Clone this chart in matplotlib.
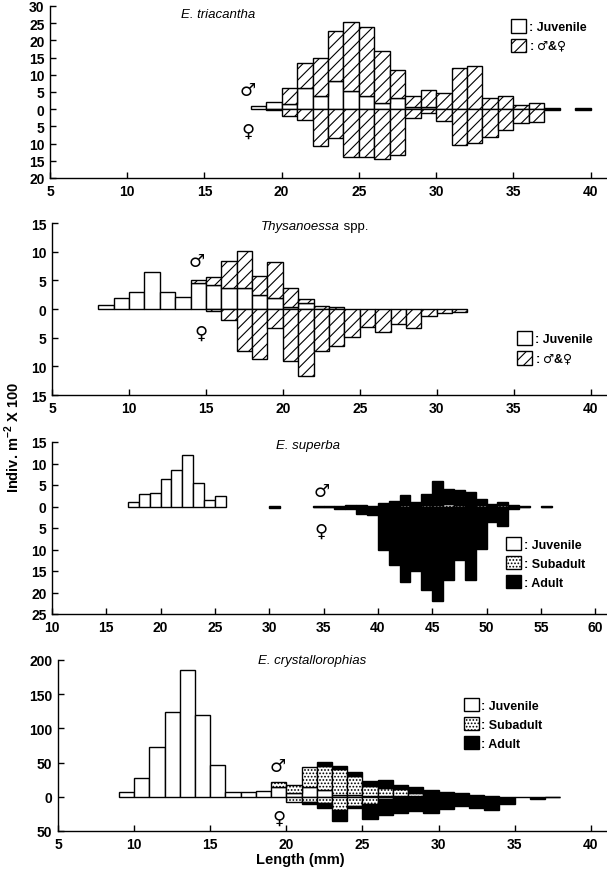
import numpy as np
import matplotlib
matplotlib.use('Agg')
import matplotlib.pyplot as plt
from matplotlib.patches import Patch
from matplotlib.ticker import FuncFormatter

plt.rcParams['font.family'] = ['Liberation Sans', 'DejaVu Sans']
plt.rcParams['font.weight'] = 'bold'
plt.rcParams['hatch.linewidth'] = 0.8
plt.rcParams['mathtext.fontset'] = 'custom'
plt.rcParams['mathtext.rm'] = 'Liberation Sans'
plt.rcParams['mathtext.bf'] = 'Liberation Sans:bold'
plt.rcParams['mathtext.sf'] = 'DejaVu Sans'

FS = 10

# --- E. triacantha (1 mm bins starting at tri_len) ---
tri_len = list(range(18, 40))
tri_juv = [0.8, 2.0, 1.5, 6.1, 3.9, 8.2, 5.2, 3.7, 1.8, 3.2, 0.6, 0.6,
           0, 0, 0, 0, 0, 0, 0, 0, 0, 0]
tri_male = [0, 0, 4.8, 7.2, 11.0, 14.4, 20.2, 20.2, 15.2, 8.3, 3.3, 5.0,
            4.8, 11.9, 12.5, 3.3, 3.8, 1.2, 1.8, 0.3, 0, 0.3]
tri_female = [0, 0.3, 1.9, 3.2, 10.6, 8.5, 14.0, 14.0, 14.6, 13.2, 2.6, 1.0,
              3.4, 10.4, 9.9, 8.1, 6.1, 3.9, 3.7, 0.3, 0, 0.3]

# --- Thysanoessa spp. ---
thy_len = list(range(8, 32))
thy_juv = [0.7, 1.85, 2.9, 6.5, 2.9, 2.1, 4.5, 4.2, 3.7, 3.7, 2.4, 1.85,
           0.3, 1.0, 0, 0, 0, 0, 0, 0, 0, 0, 0, 0]
thy_male = [0, 0, 0, 0, 0, 0, 0.5, 1.3, 4.6, 6.4, 3.3, 6.35,
            3.3, 0.7, 0.5, 0.3, 0, 0, 0, 0, 0, 0, 0, 0]
thy_female = [0, 0, 0, 0, 0, 0, 0, 0.3, 2.0, 7.3, 8.8, 3.3,
              9.0, 11.7, 7.4, 6.5, 4.9, 3.1, 4.0, 2.7, 3.3, 1.2, 0.7, 0.5]

# --- E. superba ---
sup_len = list(range(17, 56))
sup_juv = [1.1, 3.0, 3.2, 6.5, 8.6, 12.0, 5.5, 1.5, 2.5] + [0] * 30
sup_sub_up = [0] * 13 + [0, 0, 0, 0, 0, 0, 0, 0, 0, 0,
                         0, 0, 0.4, 0, 0.4, 0.4, 0.5, 0.4, 0, 0.3,
                         0, 0.3, 0, 0, 0, 0]
sup_adult_up = [0] * 13 + [0.2, 0, 0, 0, 0.15, 0.15, 0.2, 0.3, 0.3, 0.1,
                           0.7, 1.3, 2.2, 1.0, 2.5, 5.6, 3.6, 3.4, 3.3, 1.5,
                           0.6, 0.7, 0.3, 0.2, 0, 0.2]
sup_adult_dn = [0] * 13 + [0.25, 0, 0, 0, 0.15, 0.15, 0.5, 0.5, 1.7, 1.9,
                           10.1, 13.6, 17.5, 15.1, 19.5, 21.9, 17.2, 12.4, 17.2, 9.8,
                           3.7, 4.6, 0.5, 0.2, 0, 0.2]

# --- E. crystallorophias ---
cry_len = list(range(9, 38))
cry_juv = [7, 28, 73, 124, 185, 119, 46, 7, 7, 8, 15, 5, 15, 10, 3, 3,
           1.5, 1.5, 1.5, 1, 0.5, 0, 0, 0, 0, 0, 0, 0, 0]
cry_sub_up = [0] * 10 + [7, 12, 28, 35, 37, 27, 14.5, 12, 9.5, 4, 2] + [0] * 8
cry_adult_up = [0] * 13 + [6, 5, 6, 6.5, 11, 6.5, 10, 7.5, 7.3, 5, 2.5, 0.5,
                           0, 0, 0, 0.3]
cry_sub_dn = [0] * 11 + [7, 8, 9, 20, 13, 11, 3, 1] + [0] * 10
cry_adult_dn = [0] * 12 + [2, 7, 16, 3, 22, 24, 22, 20.5, 23, 18, 14, 17, 20,
                           10.5, 1, 3.5, 0.3]

JUV = dict(facecolor='white')
HAT = dict(facecolor='white', hatch='///')
SUB = dict(facecolor='white', hatch='.....')
ADU = dict(facecolor='black')
MF = ': $\\mathsf{♂}$&$\\mathsf{♀}$'


def bars(ax, x, h, bottom, sign, style):
    x = np.asarray(x)
    h = np.asarray(h, float)
    bottom = np.asarray(bottom, float)
    m = h > 0
    ax.bar(x[m], sign * h[m], width=1, bottom=sign * bottom[m], align='edge',
           edgecolor='black', linewidth=1, **style)


def stack(ax, x, layers, sign):
    base = np.zeros(len(x))
    for vals, style in layers:
        bars(ax, x, vals, base, sign, style)
        base = base + np.asarray(vals, float)


def style_ax(ax, xlim, ylim, yticks, xticks):
    ax.set_xlim(xlim)
    ax.set_ylim(ylim)
    ax.spines[['top', 'right']].set_visible(False)
    ax.spines[['left', 'bottom']].set_linewidth(1)
    ax.set_yticks(yticks)
    ax.set_xticks(xticks)
    ax.yaxis.set_major_formatter(FuncFormatter(lambda v, p: f'{abs(v):g}'))
    ax.tick_params(direction='in', length=4, width=1, labelsize=FS, pad=4)


def legend(ax, items, anchor):
    handles = [Patch(label=lab, edgecolor='black', linewidth=1, **st) for lab, st in items]
    ax.legend(handles=handles, loc='upper left', bbox_to_anchor=anchor, frameon=False,
              handlelength=1.2, handleheight=1.3, handletextpad=0.2, labelspacing=0.4,
              borderpad=0, borderaxespad=0, fontsize=9)


def sexes(ax, xm, ym, xf, yf):
    ax.text(xm, ym, '♂', ha='center', va='center', fontsize=13, weight='normal', family='DejaVu Sans')
    ax.text(xf, yf, '♀', ha='center', va='center', fontsize=13, weight='normal', family='DejaVu Sans')


def title(ax, x, y, s):
    ax.text(x, y, s, style='italic', weight='normal', ha='center', va='center', fontsize=9.5)


fig = plt.figure(figsize=(6.07, 8.7), dpi=100)
W, H = 607, 870
ax1 = fig.add_axes([50 / W, 1 - 179 / H, 556 / W, 172 / H])
ax2 = fig.add_axes([52 / W, 1 - 396 / H, 554 / W, 172 / H])
ax3 = fig.add_axes([52 / W, 1 - 615 / H, 554 / W, 172 / H])
ax4 = fig.add_axes([58 / W, 1 - 832 / H, 548 / W, 171 / H])

# panel 1
stack(ax1, tri_len, [(tri_juv, JUV), (tri_male, HAT)], 1)
stack(ax1, tri_len, [(tri_female, HAT)], -1)
style_ax(ax1, (5, 41), (-20, 30), range(-20, 31, 5), range(5, 41, 5))
title(ax1, 15.9, 27.6, 'E. triacantha')
sexes(ax1, 17.8, 5.6, 17.8, -6.3)
legend(ax1, [(': Juvenile', JUV), (MF, HAT)], (0.83, 0.925))

# panel 2
stack(ax2, thy_len, [(thy_juv, JUV), (thy_male, HAT)], 1)
stack(ax2, thy_len, [(thy_female, HAT)], -1)
style_ax(ax2, (5, 41), (-15, 15), range(-15, 16, 5), range(5, 41, 5))
ax2.text(23.7, 14.5, 'Thysanoessa', style='italic', weight='normal', ha='right', va='center', fontsize=9.5)
ax2.text(23.7, 14.5, ' spp.', weight='normal', ha='left', va='center', fontsize=9.5)
sexes(ax2, 14.4, 8.4, 14.7, -4.1)
legend(ax2, [(': Juvenile', JUV), (MF, HAT)], (0.84, 0.37))

# panel 3
stack(ax3, sup_len, [(sup_juv, JUV), (sup_sub_up, SUB), (sup_adult_up, ADU)], 1)
stack(ax3, sup_len, [(sup_adult_dn, ADU)], -1)
style_ax(ax3, (10, 61), (-25, 15), range(-25, 16, 5), range(10, 61, 5))
title(ax3, 33.6, 14.4, 'E. superba')
sexes(ax3, 34.8, 3.7, 34.8, -5.7)
legend(ax3, [(': Juvenile', JUV), (': Subadult', SUB), (': Adult', ADU)], (0.82, 0.45))

# panel 4
stack(ax4, cry_len, [(cry_juv, JUV), (cry_sub_up, SUB), (cry_adult_up, ADU)], 1)
stack(ax4, cry_len, [(cry_sub_dn, SUB), (cry_adult_dn, ADU)], -1)
style_ax(ax4, (5, 41), (-50, 200), range(-50, 201, 50), range(5, 41, 5))
title(ax4, 21.7, 200, 'E. crystallorophias')
sexes(ax4, 19.4, 45, 19.5, -30)
legend(ax4, [(': Juvenile', JUV), (': Subadult', SUB), (': Adult', ADU)], (0.74, 0.78))

fig.text(12 / W, 1 - 437 / H, 'Indiv. m$^{\\mathbf{-2}}$ X 100', rotation=90,
         ha='center', va='center', fontsize=10.5)
fig.text(300 / W, 1 - 860 / H, 'Length (mm)', ha='center', va='center', fontsize=10.5)

fig.savefig('out.png', dpi=100)
